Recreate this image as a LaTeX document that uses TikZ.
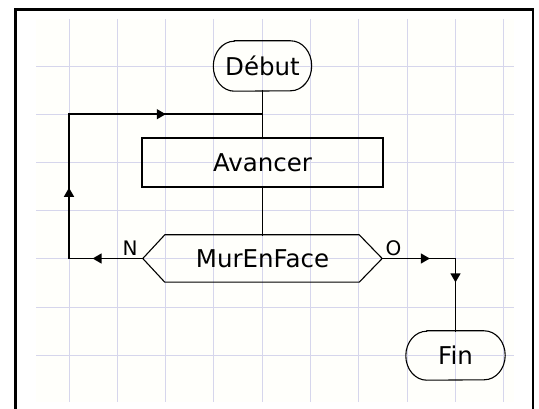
\documentclass[tikz,border=0pt]{standalone}
\usepackage{fontspec}
\setmainfont{DejaVu Sans}
\usetikzlibrary{arrows.meta,decorations.markings}
\definecolor{gridc}{RGB}{214,214,236}
\definecolor{paper}{RGB}{255,255,251}
\begin{document}
\begin{tikzpicture}[x=1pt,y=-1pt,
  line/.style={line width=1.5pt, black, line cap=rect},
  shapeline/.style={line width=1.1pt, black},
  txt/.style={font=\fontsize{24.5}{28}\selectfont, inner sep=0pt},
  lbl/.style={font=\fontsize{20}{22}\selectfont, inner sep=0pt},
  arrowat/.style={postaction={decorate}, decoration={markings, mark=at position #1 with {\arrow{Triangle[length=9pt,width=10pt]}}}},
  gridline/.style={gridc, line width=0.9pt}
]
\useasboundingbox (0,0) rectangle (539,409);
\fill[white] (0,0) rectangle (539,409);
\fill[paper] (36,19) rectangle (514,402);
\foreach \i in {0,...,9} \draw[gridline] ({69+48.3*\i},19) -- ({69+48.3*\i},402);
\foreach \j in {0,...,6} \draw[gridline] (36,{66+48.2*\j}) -- (514,{66+48.2*\j});
\draw[line width=2.5pt] (15.5,9.5) rectangle (533,425);

% nodes
\node[txt, minimum width=98, minimum height=50] (debut) at (262.5,66) {Début};
\draw[shapeline] ([xshift=21pt]debut.north west) -- ([xshift=-21pt]debut.north east)
  arc[start angle=90,end angle=-90,x radius=21pt,y radius=25pt]
  -- ([xshift=21pt]debut.south west)
  arc[start angle=270,end angle=90,x radius=21pt,y radius=25pt] -- cycle;

\node[txt, draw, shapeline, minimum width=241, minimum height=49] (av) at (262.5,162.5) {Avancer};

\node[txt, minimum width=239, minimum height=47] (hex) at (262.5,258.5) {MurEnFace};
\draw[shapeline] (hex.west) -- ([xshift=22pt]hex.north west) -- ([xshift=-23pt]hex.north east)
  -- (hex.east) -- ([xshift=-23pt]hex.south east) -- ([xshift=22pt]hex.south west) -- cycle;

\node[txt, minimum width=99, minimum height=49] (fin) at (455.5,355.5) {Fin};
\draw[shapeline] ([xshift=21pt]fin.north west) -- ([xshift=-21pt]fin.north east)
  arc[start angle=90,end angle=-90,x radius=21pt,y radius=24.5pt]
  -- ([xshift=21pt]fin.south west)
  arc[start angle=270,end angle=90,x radius=21pt,y radius=24.5pt] -- cycle;

\node[lbl] (n) at (130,248) {N};
\node[lbl] (o) at (393.5,248) {O};

% connector points
\coordinate (j) at (262.5,114.2);
\coordinate (cl) at (69,258.5);
\coordinate (ct) at (69,114.2);
\coordinate (cr) at (455.5,258.5);

% connectors
\draw[line] (debut.south) -- (av.north);
\draw[line] (av.south) -- (hex.north);
\draw[line, arrowat=0.68] (hex.west) -- (cl);
\draw[line, arrowat=0.49] (cl) -- (ct);
\draw[line, arrowat=0.5] (ct) -- (j);
\draw[line, arrowat=0.65] (hex.east) -- (cr);
\draw[line, arrowat=0.33] (cr) -- (fin.north);
\end{tikzpicture}
\end{document}
